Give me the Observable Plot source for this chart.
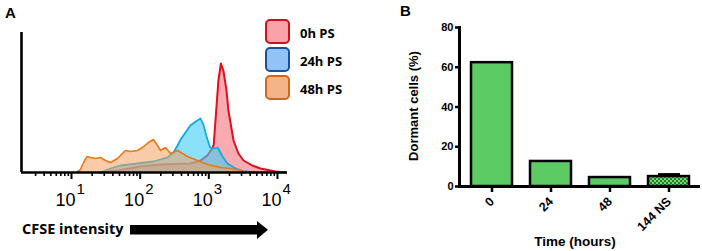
<!DOCTYPE html>
<html><head><meta charset="utf-8">
<script src="https://cdn.jsdelivr.net/npm/d3@7"></script>
<script src="https://cdn.jsdelivr.net/npm/@observablehq/plot@0.6"></script>
<style>
body{margin:0;background:#fff;}
#wrap{position:relative;width:702px;height:251px;overflow:hidden;}
#wrap > svg{position:absolute;top:0;}
</style></head><body>
<svg width="0" height="0" style="position:absolute"><defs>
<pattern id="checker" width="4" height="4" patternUnits="userSpaceOnUse">
<rect width="4" height="4" fill="#6fdc6f"/><rect width="2" height="2" fill="#2b7a32"/><rect x="2" y="2" width="2" height="2" fill="#2b7a32"/>
</pattern></defs></svg>
<div id="wrap"></div>
<script>
// ---------- Panel A data (CFSE histograms) ----------
const seriesNames = ["0h PS", "24h PS", "48h PS"];
const redX = [26, 47, 100, 200, 540, 760, 950, 1120, 1180, 1260, 1380, 1500, 1630, 1810, 1930, 2140, 2290, 2700, 3200, 4300, 5650, 9350, 13000];
const redY = [0, 2, 6, 8, 9, 12, 17, 24, 28, 55, 92, 109, 102, 82, 62, 44, 32, 19, 12, 7, 4, 1, 0];
const blueX = [26, 41, 52, 91, 156, 250, 306, 350, 389, 457, 537, 646, 759, 832, 955, 1047, 1202, 1349, 1585, 1862, 2455, 3388, 4786];
const blueY = [0, 5, 7, 9, 11, 15, 20, 27, 33, 40, 47, 51, 54, 48, 33, 25, 24, 25, 16, 9, 4, 1, 0];
const orangeX = [11.8, 13.5, 15.5, 17, 19, 22.4, 26.4, 31.3, 37, 46.8, 61, 72, 91, 108, 132, 156, 179, 198, 234, 277, 350, 489, 684, 955, 1479, 2066, 3423, 5653];
const orangeY = [0, 3, 12, 16, 15, 14, 15, 12, 10, 14, 22, 21, 22, 25, 30, 33, 27, 22, 25, 19, 22, 16, 12, 8, 5, 4, 1, 0];
const majorTicks = [10, 100, 1000, 10000];
const majorExponents = ["1", "2", "3", "4"];
const minorTicks = [3, 4, 5, 6, 7, 8, 9, 20, 30, 40, 50, 60, 70, 80, 90, 200, 300, 400, 500, 600, 700, 800, 900, 2000, 3000, 4000, 5000, 6000, 7000, 8000, 9000];

// ---------- Panel B data (dormant cells) ----------
const timeCategories = ["0", "24", "48", "144 NS"];
const dormantValues = [62.3, 12.6, 4.5, 5.0];
const dormantErrors = [0, 0, 0, 1.5];
const yTicksB = [0, 20, 40, 60, 80];

const series = [
  {name: seriesNames[0], xs: redX, ys: redY, fill: "#f5737f", op: 0.6, stroke: "#e3101c", sw: 2},
  {name: seriesNames[1], xs: blueX, ys: blueY, fill: "#3ccdf5", op: 0.6, stroke: "#16aae3", sw: 1.8},
  {name: seriesNames[2], xs: orangeX, ys: orangeY, fill: "#f5a060", op: 0.55, stroke: "#e67a1c", sw: 1.6}
].map(s => ({...s, rows: s.xs.map((x, i) => ({x, y: s.ys[i]}))}));

const histMarks = [];
for (const s of series) {
  histMarks.push(Plot.areaY(s.rows, {x: "x", y: "y", fill: s.fill, fillOpacity: s.op, curve: "linear"}));
  histMarks.push(Plot.lineY(s.rows, {x: "x", y: "y", stroke: s.stroke, strokeWidth: s.sw, curve: "linear"}));
}

const plotA = Plot.plot({
  width: 300, height: 251,
  marginLeft: 21, marginRight: 13, marginTop: 32, marginBottom: 79,
  x: {type: "log", domain: [1.87, 14000]},
  y: {domain: [0, 140], axis: null},
  style: {fontFamily: "'Liberation Sans', Arial, sans-serif", fontSize: "18px", background: "transparent", overflow: "visible"},
  marks: [
    ...histMarks,
    Plot.axisX(minorTicks, {tickSize: 4, strokeWidth: 1.6, tickFormat: () => "", label: null}),
    Plot.axisX(majorTicks, {tickSize: 7, strokeWidth: 2, tickFormat: () => "", label: null}),
    Plot.text(majorTicks, {x: d => d, text: () => "10", frameAnchor: "bottom", lineAnchor: "bottom", textAnchor: "end", dx: 4, dy: 33, fontSize: 18}),
    Plot.text(majorTicks, {x: d => d, text: (d, i) => majorExponents[i], frameAnchor: "bottom", lineAnchor: "bottom", textAnchor: "start", dx: 5, dy: 21, fontSize: 15}),
    Plot.ruleY([0], {strokeWidth: 2.6}),
    Plot.ruleX([1.87], {strokeWidth: 2.6})
  ]
});
plotA.style.left = "0px";

const barRows = timeCategories.map((t, i) => ({time: t, value: dormantValues[i], err: dormantErrors[i]}));
const plotB = Plot.plot({
  width: 302, height: 251,
  marginLeft: 59, marginRight: 2, marginTop: 27, marginBottom: 65,
  x: {domain: timeCategories, paddingInner: 0.31, paddingOuter: 0.187},
  y: {domain: [0, 80]},
  style: {fontFamily: "'Liberation Sans', Arial, sans-serif", fontSize: "11px", fontWeight: "bold", background: "transparent", overflow: "visible"},
  marks: [
    Plot.barY(barRows.filter(d => d.time !== "144 NS"), {x: "time", y: "value", fill: "#5dcb64", stroke: "black", strokeWidth: 2.5}),
    Plot.barY(barRows.filter(d => d.time === "144 NS"), {x: "time", y: "value", fill: "url(#checker)", stroke: "black", strokeWidth: 2.5}),
    Plot.rectY(barRows.filter(d => d.err > 0), {x: "time", y1: "value", y2: d => d.value + d.err, fill: "black", insetLeft: 10, insetRight: 9}),
    Plot.axisY({ticks: yTicksB, tickSize: 4, strokeWidth: 2.5, tickPadding: 2, label: null}),
    Plot.axisX({tickSize: 6, strokeWidth: 2.5, tickRotate: -45, tickPadding: 7, fontSize: 12.5, label: null}),
    Plot.frame({anchor: "left", strokeWidth: 3}),
    Plot.ruleY([0], {strokeWidth: 3})
  ]
});
plotB.style.left = "400px";

const wrap = document.getElementById("wrap");
wrap.appendChild(plotA);
wrap.appendChild(plotB);

// ---------- annotations: panel letters, legend, axis titles ----------
const legendColors = [
  {fill: "#f9a3a8", stroke: "#d0101c"},
  {fill: "#93c2f7", stroke: "#1c4f99"},
  {fill: "#f4b488", stroke: "#d4661a"}
];
const ov = d3.create("svg").attr("width", 702).attr("height", 251)
  .style("position", "absolute").style("left", "0px").style("top", "0px").style("pointer-events", "none");
const bold = "'Liberation Sans', Arial, sans-serif";
ov.append("text").attr("x", 5).attr("y", 17.5).attr("font-family", bold).attr("font-weight", "bold").attr("font-size", 15).text("A");
ov.append("text").attr("x", 400).attr("y", 15.5).attr("font-family", bold).attr("font-weight", "bold").attr("font-size", 15).text("B");
seriesNames.forEach((n, i) => {
  ov.append("rect").attr("x", 266).attr("y", 20 + 28 * i).attr("width", 23).attr("height", 23).attr("rx", 4)
    .attr("fill", legendColors[i].fill).attr("stroke", legendColors[i].stroke).attr("stroke-width", 2);
  ov.append("text").attr("x", 300).attr("y", 37.5 + 28 * i).attr("font-family", "'Open Sans', sans-serif")
    .attr("font-weight", "bold").attr("font-size", 13).text(n);
});
ov.append("text").attr("x", 22).attr("y", 233.5).attr("font-family", "'Open Sans', sans-serif")
  .attr("font-weight", "bold").attr("font-size", 14.5).text("CFSE intensity");
ov.append("rect").attr("x", 130).attr("y", 225).attr("width", 130).attr("height", 9.5).attr("fill", "black");
ov.append("path").attr("d", "M257,221 L268,229.7 L257,239 Z").attr("fill", "black");
ov.append("text").attr("transform", "translate(418,106) rotate(-90)").attr("text-anchor", "middle")
  .attr("font-family", bold).attr("font-weight", "bold").attr("font-size", 13).text("Dormant cells (%)");
ov.append("text").attr("x", 575).attr("y", 245.5).attr("text-anchor", "middle")
  .attr("font-family", bold).attr("font-weight", "bold").attr("font-size", 13.5).text("Time (hours)");
wrap.appendChild(ov.node());
</script>
</body></html>
